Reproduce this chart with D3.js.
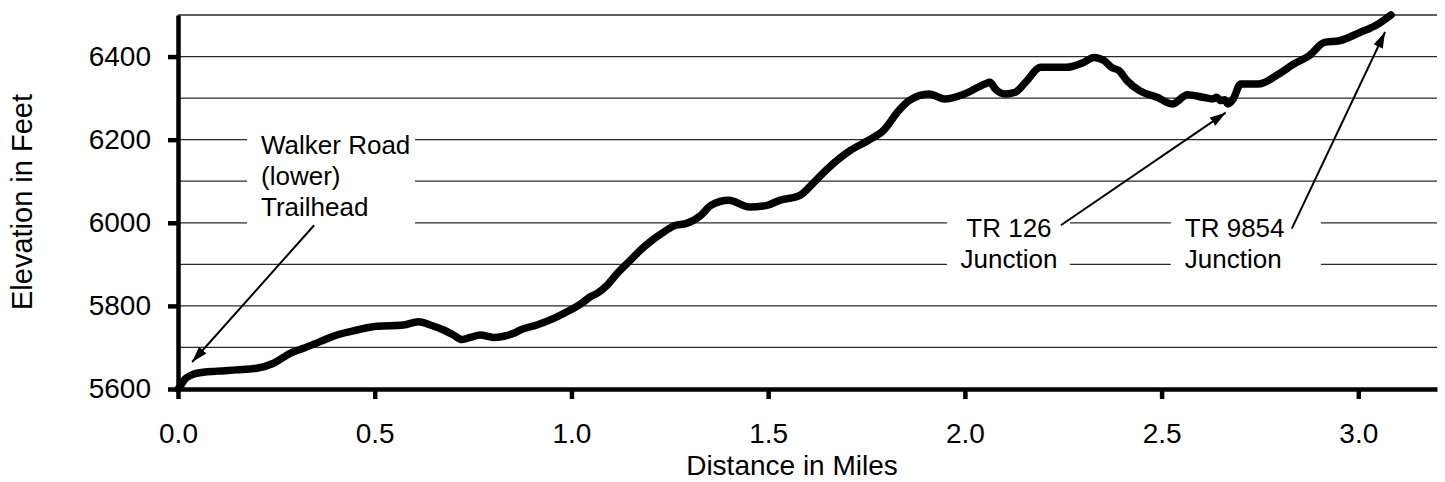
<!DOCTYPE html>
<html>
<head>
	<meta charset="utf-8">
	<script src="https://d3js.org/d3.v7.min.js"></script>
	<style>
		body { margin: 0; background: #fff; }
		text { font-family: "Liberation Sans", Arial, sans-serif; fill: #000; }
	</style>
</head>
<body>
<div id="graph"></div>
<script>

// trail profile
var distance = [0.000, 0.005, 0.018, 0.035, 0.048, 0.100, 0.149, 0.200, 0.243, 0.285,
  0.319, 0.361, 0.404, 0.455, 0.505, 0.573, 0.611, 0.641, 0.675, 0.700,
  0.722, 0.743, 0.768, 0.802, 0.828, 0.853, 0.870, 0.912, 0.955, 0.997,
  1.023, 1.048, 1.065, 1.091, 1.116, 1.150, 1.175, 1.201, 1.226, 1.265,
  1.291, 1.329, 1.355, 1.400, 1.452, 1.497, 1.529, 1.581, 1.613, 1.651,
  1.709, 1.754, 1.793, 1.832, 1.858, 1.909, 1.948, 1.999, 2.051, 2.064,
  2.077, 2.102, 2.128, 2.154, 2.193, 2.257, 2.302, 2.328, 2.354, 2.373,
  2.392, 2.412, 2.444, 2.489, 2.527, 2.566, 2.605, 2.630, 2.640, 2.650,
  2.660, 2.669, 2.682, 2.701, 2.746, 2.798, 2.836, 2.875, 2.914, 2.952,
  3.004, 3.043, 3.083];
var elevation = [5600, 5606, 5624, 5634, 5638, 5643, 5646, 5650, 5662, 5686,
  5698, 5714, 5730, 5742, 5751, 5754, 5762, 5754, 5742, 5730,
  5719, 5724, 5730, 5724, 5727, 5734, 5742, 5754, 5770, 5790,
  5804, 5822, 5830, 5850, 5878, 5910, 5934, 5955, 5972, 5994,
  5998, 6018, 6042, 6054, 6038, 6042, 6054, 6066, 6094, 6130,
  6174, 6198, 6222, 6270, 6294, 6310, 6298, 6310, 6334, 6338,
  6322, 6310, 6314, 6338, 6374, 6374, 6386, 6398, 6390, 6374,
  6366, 6342, 6318, 6302, 6286, 6308, 6302, 6298, 6302, 6294,
  6296, 6286, 6298, 6334, 6334, 6358, 6382, 6402, 6434, 6438,
  6458, 6474, 6500];

var xTicks = [0, 0.5, 1.0, 1.5, 2.0, 2.5, 3.0];
var yTicks = [5600, 5800, 6000, 6200, 6400];
var yGrid = [5700, 5800, 5900, 6000, 6100, 6200, 6300, 6400, 6500];

// callouts: text position and arrow in data units
var notes = [
  {lines: ["Walker Road", "(lower)", "Trailhead"], x: 0.211, y: 6166, anchor: "start",
   box: [-14, -33, 168, 122], from: [0.346, 5994], to: [0.036, 5665]},
  {lines: ["TR 126", "Junction"], x: 2.112, y: 5965, anchor: "middle",
   box: [-62, -37, 123, 85], from: [2.244, 5994], to: [2.663, 6265]},
  {lines: ["TR 9854", "Junction"], x: 2.559, y: 5965, anchor: "start",
   box: [-14, -37, 150, 85], from: [2.831, 5986], to: [3.068, 6459]}
];

var W = 1445, H = 482;
var svg = d3.select("#graph")
  .append("svg")
    .attr("width", W)
    .attr("height", H);

var x = d3.scaleLinear().domain([0, 3.2]).range([178, 1437]);
var y = d3.scaleLinear().domain([5600, 6500]).range([389, 15]);

// gridlines
svg.append("g")
  .selectAll("line")
  .data(yGrid)
  .enter()
  .append("line")
    .attr("x1", x(0))
    .attr("x2", x(3.2))
    .attr("y1", function(d) { return y(d); })
    .attr("y2", function(d) { return y(d); })
    .attr("stroke", "#2a2a2a")
    .attr("stroke-width", 1.3);

// callout boxes hide the gridlines behind the text
var note = svg.append("g").selectAll("g")
  .data(notes)
  .enter()
  .append("g")
    .attr("transform", function(d) { return "translate(" + x(d.x) + "," + y(d.y) + ")"; });

note.append("rect")
  .attr("x", function(d) { return d.box[0]; })
  .attr("y", function(d) { return d.box[1]; })
  .attr("width", function(d) { return d.box[2]; })
  .attr("height", function(d) { return d.box[3]; })
  .attr("fill", "#fff");

note.each(function(d) {
  var t = d3.select(this).append("text")
    .attr("font-size", "26px")
    .attr("text-anchor", d.anchor);
  d.lines.forEach(function(s, i) {
    t.append("tspan").attr("x", 0).attr("y", i * 31).text(s);
  });
});

// arrow heads
svg.append("defs").append("marker")
    .attr("id", "head")
    .attr("viewBox", "0 0 16 10")
    .attr("refX", 16)
    .attr("refY", 5)
    .attr("markerWidth", 16)
    .attr("markerHeight", 10)
    .attr("markerUnits", "userSpaceOnUse")
    .attr("orient", "auto")
  .append("path")
    .attr("d", "M0,0L16,5L0,10Z")
    .attr("fill", "#000");

svg.append("g")
  .selectAll("line")
  .data(notes)
  .enter()
  .append("line")
    .attr("x1", function(d) { return x(d.from[0]); })
    .attr("y1", function(d) { return y(d.from[1]); })
    .attr("x2", function(d) { return x(d.to[0]); })
    .attr("y2", function(d) { return y(d.to[1]); })
    .attr("stroke", "#000")
    .attr("stroke-width", 2)
    .attr("marker-end", "url(#head)");

// profile line
var data = distance.map(function(d, i) { return {d: d, e: elevation[i]}; });
svg.append("path")
  .datum(data)
  .attr("fill", "none")
  .attr("stroke", "#000")
  .attr("stroke-width", 7.5)
  .attr("stroke-linejoin", "round")
  .attr("stroke-linecap", "round")
  .attr("d", d3.line()
    .x(function(d) { return x(d.d); })
    .y(function(d) { return y(d.e); })
    .curve(d3.curveMonotoneX));

// axes
var xAxis = svg.append("g")
  .attr("transform", "translate(0," + y(5600) + ")")
  .call(d3.axisBottom(x).tickValues(xTicks).tickFormat(d3.format(".1f"))
    .tickSize(10).tickSizeOuter(0).tickPadding(24));

var yAxis = svg.append("g")
  .attr("transform", "translate(" + x(0) + ",0)")
  .call(d3.axisLeft(y).tickValues(yTicks).tickFormat(d3.format("d"))
    .tickSize(10).tickSizeOuter(0).tickPadding(17));

[xAxis, yAxis].forEach(function(a) {
  a.select(".domain").attr("stroke", "#000").attr("stroke-width", 4.5);
  a.selectAll(".tick line").attr("stroke", "#000").attr("stroke-width", 4.5);
  a.selectAll(".tick text")
    .attr("font-family", "Liberation Sans, Arial, sans-serif")
    .attr("font-size", "28px")
    .attr("fill", "#000");
});

// axis titles
svg.append("text")
  .attr("x", 792)
  .attr("y", 475)
  .attr("font-size", "28px")
  .style("text-anchor", "middle")
  .text("Distance in Miles");

svg.append("text")
  .attr("transform", "translate(32," + ((y(5600) + y(6500)) / 2) + ") rotate(-90)")
  .attr("font-size", "29px")
  .style("text-anchor", "middle")
  .text("Elevation in Feet");

</script>
</body>
</html>
